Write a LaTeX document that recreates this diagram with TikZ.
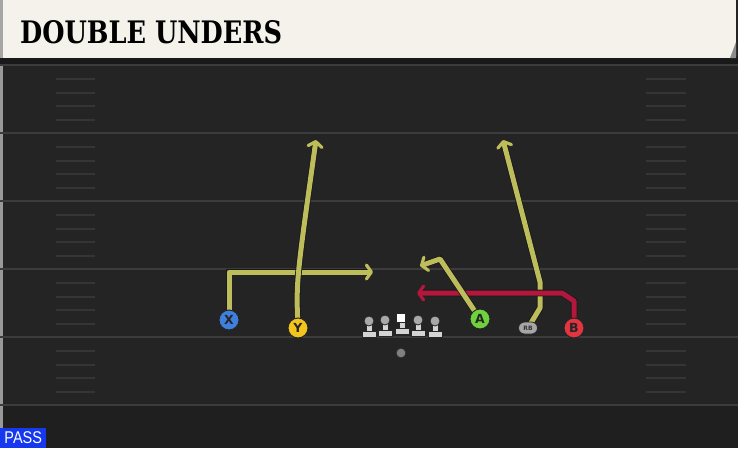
\documentclass[tikz,border=0pt]{standalone}
\usepackage{fontspec}
\usepackage{graphicx}
\usetikzlibrary{arrows.meta,shapes.misc}
\setmainfont{DejaVu Sans}
\newfontfamily\titlefont{DejaVu Serif}
\newfontfamily\passfont{Liberation Sans}
\definecolor{field}{HTML}{242424}
\definecolor{fielddark}{HTML}{1F1F1F}
\definecolor{yardline}{HTML}{3C3C3C}
\definecolor{hashc}{HTML}{353535}
\definecolor{headerc}{HTML}{F4F2EB}
\definecolor{routey}{HTML}{BDBD5C}
\definecolor{router}{HTML}{B3173D}
\definecolor{pblue}{HTML}{3F7FDE}
\definecolor{pyellow}{HTML}{F4C41E}
\definecolor{pgreen}{HTML}{6ED23D}
\definecolor{pred}{HTML}{E3343F}
\definecolor{passblue}{HTML}{1638EE}
\definecolor{olgray}{HTML}{D4D4D4}
\definecolor{olhead}{HTML}{A8A8A8}
\pgfdeclarelayer{bg}
\pgfdeclarelayer{routes}
\pgfsetlayers{bg,routes,main}
\tikzset{
  yline/.style={draw=yardline, line width=2pt},
  hashmark/.style={draw=hashc, line width=1.6pt},
  player/.style={circle, draw=black!85, line width=1pt, minimum size=20pt, inner sep=0pt,
    font=\bfseries\fontsize{12.5}{12.5}\selectfont, text=black!85},
  routeyel/.style={draw=routey, line width=5pt, line join=round,
    preaction={draw=black!90, line width=6.6pt}},
  routered/.style={draw=router, line width=5pt, line join=round,
    preaction={draw=black!90, line width=6.6pt}},
  tip/.style={-{Straight Barb[length=5pt,width=14pt,line width=3.2pt,round]}},
  olbody/.style={fill=olgray, draw=black!85, line width=0.8pt},
  olheadst/.style={fill=olhead, draw=black!85, line width=0.8pt},
}
\begin{document}
\begin{tikzpicture}[x=1pt,y=-1pt]
\useasboundingbox (0,0) rectangle (738,448);
\begin{pgfonlayer}{bg}
  \fill[field] (0,0) rectangle (738,448);
  \fill[fielddark] (0,405) rectangle (738,448);
  \fill[black!40] (0,60) rectangle (3,448);
  \foreach \y in {65,133,201,269,337,405} \draw[yline] (0,\y) -- (738,\y);
  \foreach \b in {65,133,201,269,337} {
    \foreach \k in {14,28,41,55} {
      \draw[hashmark] (56,\b+\k) -- (95,\b+\k);
      \draw[hashmark] (646,\b+\k) -- (686,\b+\k);
    }
  }
  \fill[black!90] (0,56) rectangle (738,64);
  \fill[headerc] (0,0) rectangle (736,58);
  \fill[black!35] (0,0) rectangle (3,58);
  \fill[black!45] (730,58) -- (736,42) -- (736,58) -- cycle;
\end{pgfonlayer}

\node[anchor=west, inner sep=0pt] (title) at (20,32)
  {\resizebox{262pt}{23pt}{\titlefont\bfseries DOUBLE UNDERS}};

% players
\node[player, fill=pblue] (X) at (229,320) {X};
\node[player, fill=pyellow] (Y) at (298,328) {Y};
\node[player, fill=pgreen] (A) at (480,319) {A};
\node[player, fill=pred] (B) at (574,328) {B};
\node[rounded rectangle, draw=black!85, line width=0.8pt, fill=black!35, minimum width=19pt,
  minimum height=12pt, inner sep=0pt, text=black!80, font=\bfseries\fontsize{6}{6}\selectfont] (RB) at (528,328) {RB};

% offensive line
\foreach \x/\dy in {369/0,385/-1,418/-1,435/0} {
  \filldraw[olbody] (\x-7,331.5+\dy) rectangle (\x+7,337+\dy);
  \filldraw[olbody] (\x-3,323+\dy) rectangle (\x+3,331.5+\dy);
  \filldraw[olheadst] (\x,321+\dy) circle (5);
}
\filldraw[olbody] (395,328.5) rectangle (409,334);
\filldraw[olbody] (399,321) rectangle (405,328.5);
\filldraw[fill=white, draw=black!85, line width=0.8pt] (396.5,313) rectangle (405.5,322);
\node[circle, fill=black!50, draw=black!80, line width=0.6pt, minimum size=9.5pt, inner sep=0pt] (ball) at (401,353) {};

% route waypoints
\coordinate (x1) at (229,272);
\coordinate (x2) at (373,272);
\coordinate (y1) at (296,282);
\coordinate (y2) at (316,140);
\coordinate (a1) at (440,259);
\coordinate (a2) at (420,266);
\coordinate (r1) at (540,308);
\coordinate (r2) at (540,282);
\coordinate (r3) at (503,140);
\coordinate (b1) at (574,301);
\coordinate (b2) at (562,293);
\coordinate (b3) at (417,293);

\begin{pgfonlayer}{routes}
  \draw[routeyel, tip] (X.center) -- (x1) -- (x2);
  \draw[routeyel, tip] (Y.center) .. controls (y1) .. (y2);
  \draw[routeyel, tip] (RB.center) -- (r1) -- (r2) -- (r3);
  \draw[routered, tip] (B.center) -- (b1) -- (b2) -- (b3);
  \draw[routeyel, tip] (A.center) -- (a1) -- (a2);
\end{pgfonlayer}

\node[fill=passblue, text=white, anchor=south west, inner sep=0pt, minimum width=46pt,
  minimum height=20pt, font=\passfont\fontsize{17}{17}\selectfont] (pass) at (0,448) {\scalebox{0.85}[1]{PASS}};
\end{tikzpicture}
\end{document}
